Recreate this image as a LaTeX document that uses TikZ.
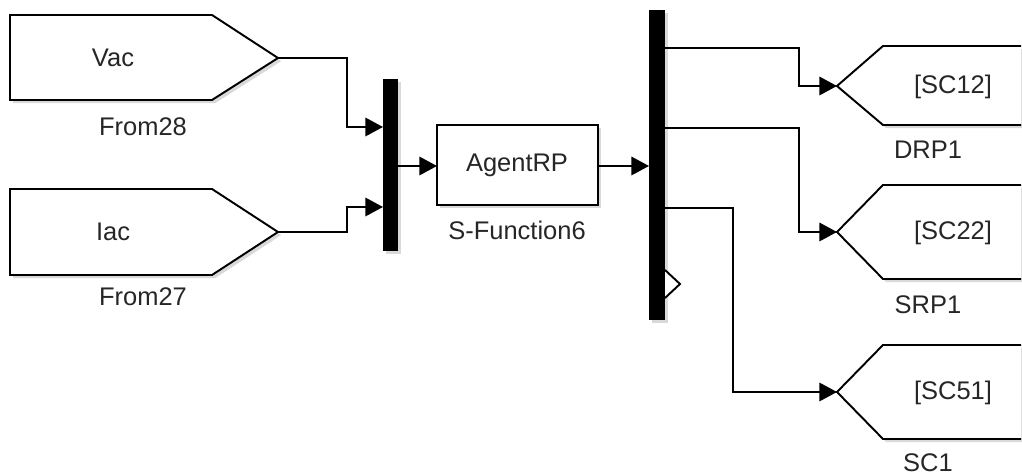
\documentclass[tikz,border=0pt]{standalone}
\usepackage{fontspec}
\setmainfont{Liberation Sans}
\usetikzlibrary{arrows.meta,shadows}
\begin{document}
\begin{tikzpicture}[x=0.02cm,y=-0.02cm,line width=1pt,
  sig/.style={-{Triangle[length=10pt,width=10.5pt]}},
  blk/.style={draw,fill=white,line width=1.1pt,
    drop shadow={shadow xshift=1.8pt,shadow yshift=-1.8pt,opacity=0.3}},
  barblk/.style={fill=black,
    drop shadow={shadow xshift=1.8pt,shadow yshift=-1.8pt,opacity=0.3}},
  lbl/.style={font=\fontsize{14.5}{16}\selectfont,text=black!85,inner sep=0pt}]
\useasboundingbox (0,0) rectangle (1022,475);

% From blocks
\draw[blk] (10,15) -- (212,15) -- (278,58) -- (212,100) -- (10,100) -- cycle;
\coordinate (vac) at (278,58);
\node[lbl] (vact) at (113,58) {Vac};
\node[lbl] (f28) at (143,127) {From28};

\draw[blk] (10,189) -- (212,189) -- (278,232) -- (212,275) -- (10,275) -- cycle;
\coordinate (iac) at (278,232);
\node[lbl] (iact) at (113,232) {Iac};
\node[lbl] (f27) at (143,297) {From27};

% Mux
\fill[barblk] (383,79) rectangle (398,251);
\coordinate (mux1) at (383,127);
\coordinate (mux2) at (383,207);
\coordinate (muxo) at (398,166);

% S-Function block
\draw[blk] (437,125) rectangle (598,205);
\node[lbl] (agent) at (517,165) {AgentRP};
\node[lbl] (sfun) at (517,230) {S-Function6};
\coordinate (agin) at (437,166);
\coordinate (agout) at (598,166);

% Demux
\fill[barblk] (649,10) rectangle (665,320);
\draw[fill=white,line width=1.1pt] (665,270) -- (680,284) -- (665,298);
\coordinate (dmin) at (649,166);
\coordinate (dm1) at (665,48);
\coordinate (dm2) at (665,128);
\coordinate (dm3) at (665,208);

% Goto blocks
\draw[blk] (1021,46) -- (883,46) -- (837,86) -- (883,125) -- (1021,125);
\coordinate (g1) at (837,86);
\node[lbl] (sc12) at (953,87) {[SC12]};
\node[lbl] (drp) at (928,150) {DRP1};

\draw[blk] (1021,185) -- (883,185) -- (837,232) -- (883,279) -- (1021,279);
\coordinate (g2) at (837,232);
\node[lbl] (sc22) at (953,233) {[SC22]};
\node[lbl] (srp) at (928,305) {SRP1};

\draw[blk] (1021,345) -- (883,345) -- (837,392) -- (883,439) -- (1021,439);
\coordinate (g3) at (837,392);
\node[lbl] (sc51) at (953,393) {[SC51]};
\node[lbl] (sc1) at (928,463) {SC1};

% Signal lines
\draw[sig] (vac) -- (347,58) |- (mux1);
\draw[sig] (iac) -- (347,232) |- (mux2);
\draw[sig] (muxo) -- (agin);
\draw[sig] (agout) -- (dmin);
\draw[sig] (dm1) -- (799,48) |- (g1);
\draw[sig] (dm2) -- (799,128) |- (g2);
\draw[sig] (dm3) -- (733,208) |- (g3);
\end{tikzpicture}
\end{document}
